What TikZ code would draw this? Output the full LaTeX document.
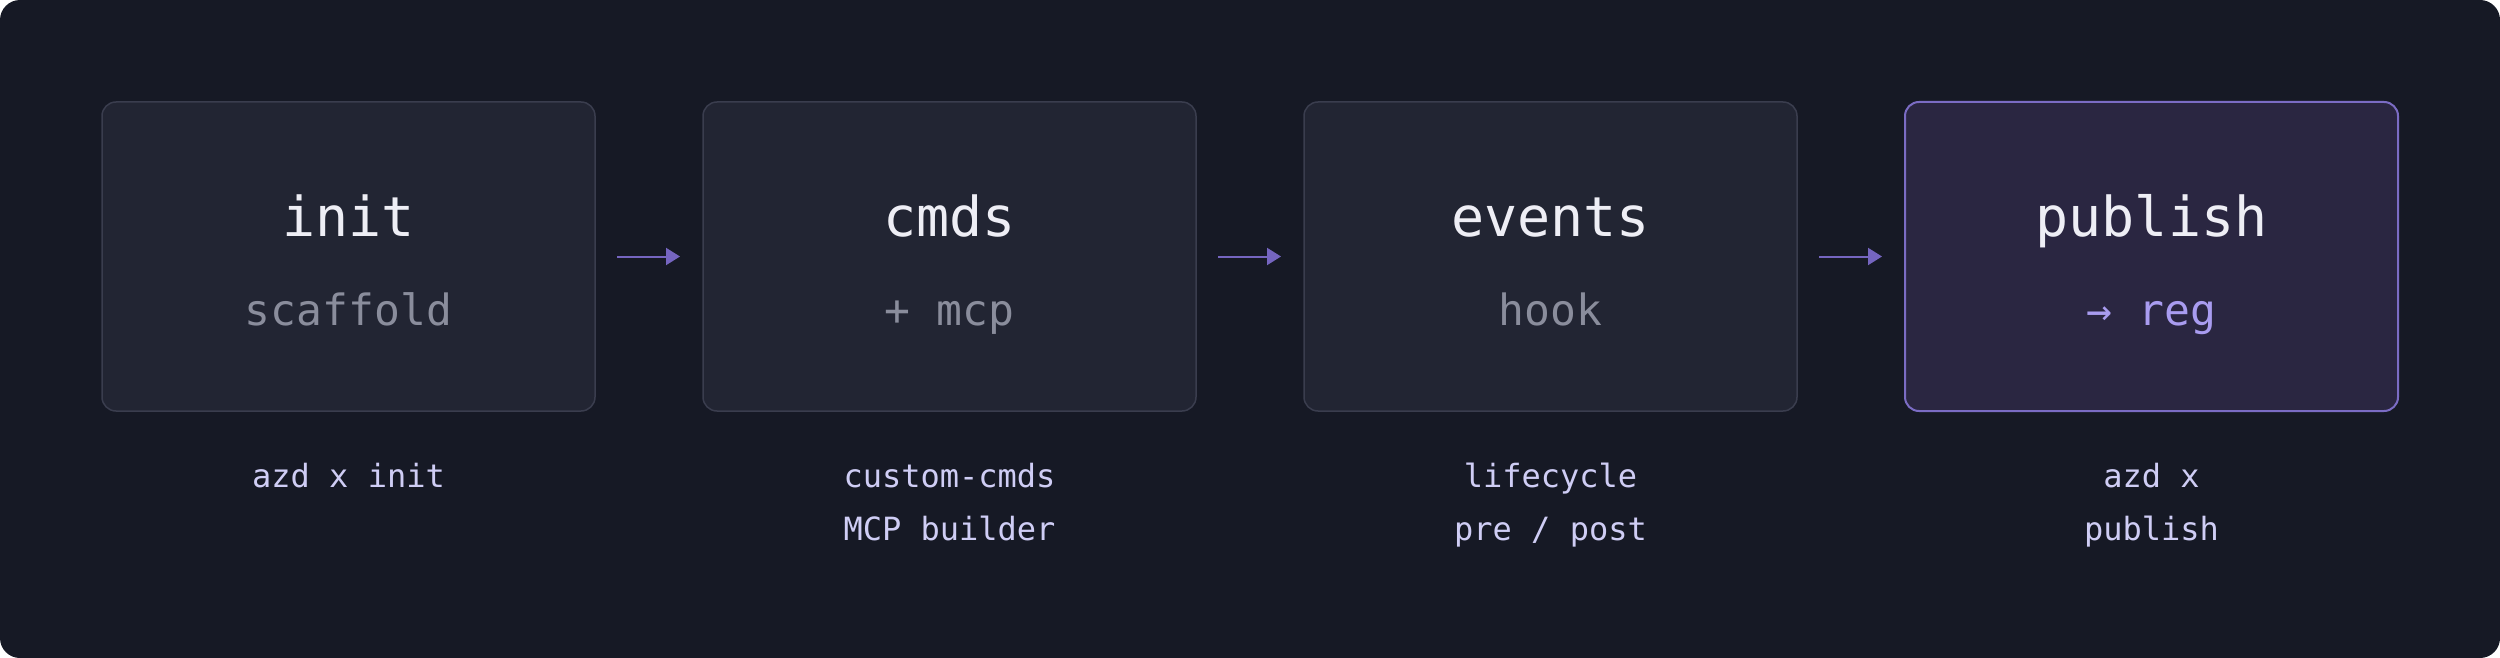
\documentclass[tikz,border=0pt]{standalone}
\usepackage{fontspec}
\setmonofont{DejaVu Sans Mono}
\usetikzlibrary{arrows.meta}
\definecolor{bgdark}{HTML}{161925}
\definecolor{cardfill}{HTML}{222533}
\definecolor{cardline}{HTML}{3A3D4E}
\definecolor{hifill}{HTML}{2A2641}
\definecolor{hiline}{HTML}{7B6CC4}
\definecolor{titlecol}{HTML}{EEEEF5}
\definecolor{subcol}{HTML}{8A8D9C}
\definecolor{hisub}{HTML}{A99CF0}
\definecolor{labcol}{HTML}{CFCDF5}
\definecolor{arrcol}{HTML}{7565C0}
\tikzset{
  card/.style={draw=cardline, fill=cardfill, line width=1.5pt, rounded corners=14pt,
    minimum width=493pt, minimum height=309pt, inner sep=0pt, outer sep=0pt},
  hicard/.style={card, draw=hiline, fill=hifill, line width=2pt},
  ttl/.style={anchor=base, text=titlecol, font=\ttfamily\fontsize{55}{66}\selectfont, inner sep=0pt},
  sub/.style={anchor=base, text=subcol, font=\ttfamily\fontsize{43}{52}\selectfont, inner sep=0pt},
  lab/.style={anchor=base, text=labcol, align=center, font=\ttfamily\fontsize{32}{53}\selectfont, inner sep=0pt},
  flow/.style={draw=arrcol, line width=2pt, -{Triangle[length=14pt, width=17pt]},
    shorten <=22pt, shorten >=23pt}
}
\begin{document}
\begin{tikzpicture}[x=1pt, y=-1pt]
\useasboundingbox (0,0) rectangle (2500,658);
\fill[white] (0,0) rectangle (2500,658);
\fill[bgdark, rounded corners=20pt] (0,0) rectangle (2500,658);

\node[card] (b1) at (348.5,256.5) {};
\node[card] (b2) at (949.5,256.5) {};
\node[card] (b3) at (1550.5,256.5) {};
\node[hicard] (b4) at (2151.5,256.5) {};

\node[ttl] (t1) at (348.5,236) {init};
\node[ttl] (t2) at (949.5,236) {cmds};
\node[ttl] (t3) at (1550.5,236) {events};
\node[ttl] (t4) at (2151.5,236) {publish};

\node[sub] (s1) at (348.5,325) {scaffold};
\node[sub] (s2) at (949.5,325) {+ mcp};
\node[sub] (s3) at (1550.5,325) {hook};
\node[sub, text=hisub] (s4) at (2151.5,325) {→ reg};

\node[lab] (l1) at (348.5,487) {azd x init};
\node[lab] (l2) at (949.5,540) {custom-cmds\\MCP builder};
\node[lab] (l3) at (1550.5,540) {lifecycle\\pre / post};
\node[lab] (l4) at (2151.5,540) {azd x\\publish};

\draw[flow, yshift=3pt] (b1.east) -- (b2.west);
\draw[flow, yshift=3pt] (b2.east) -- (b3.west);
\draw[flow, yshift=3pt] (b3.east) -- (b4.west);
\end{tikzpicture}
\end{document}
